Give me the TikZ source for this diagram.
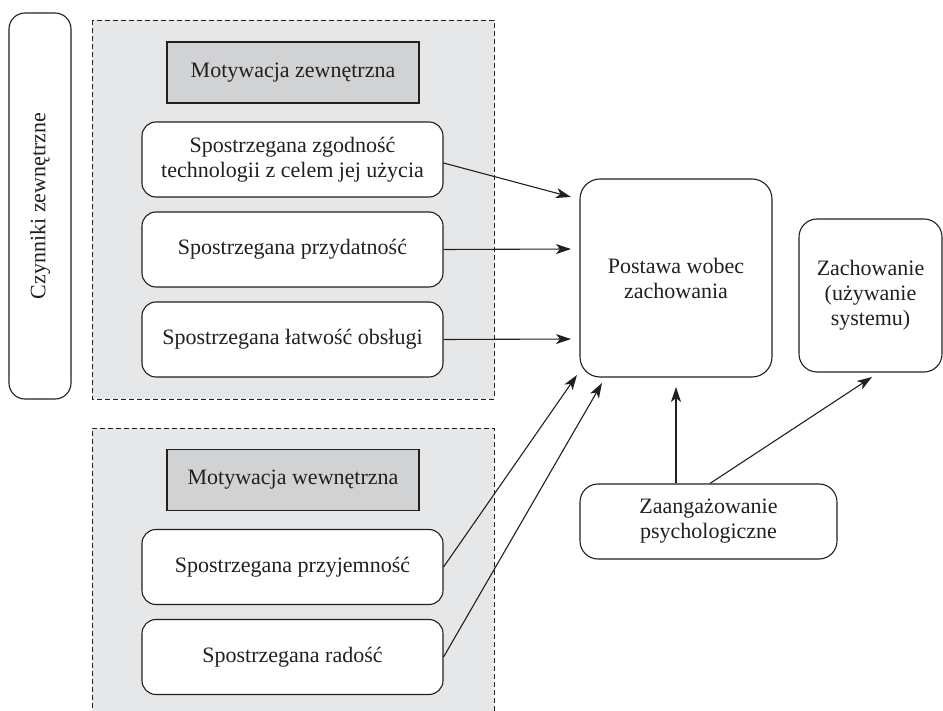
\documentclass[tikz,border=0pt]{standalone}
\usepackage{fontspec}
\setmainfont{Liberation Serif}
\usetikzlibrary{arrows.meta}
\definecolor{ink}{HTML}{231F20}
\definecolor{panelgray}{HTML}{E6E7E8}
\definecolor{headgray}{HTML}{D1D2D4}
\begin{document}
\begin{tikzpicture}[x=1pt,y=-1pt,
  every node/.style={font=\fontsize{22}{25}\selectfont, text=ink, align=center, inner sep=0pt},
  rbox/.style={draw=ink, line width=1.1pt, fill=white, rounded corners=14pt},
  headbox/.style={draw=ink, line width=1.1pt, fill=headgray, minimum width=252pt, minimum height=61pt},
  panel/.style={fill=panelgray},
  dashline/.style={draw=ink, line width=0.9pt, dash pattern=on 5pt off 3pt},
  conn/.style={draw=ink, line width=1.1pt, -{Stealth[length=15pt,width=10pt,inset=4pt]}}]
\useasboundingbox (0,0) rectangle (943,711);
% panels
\fill[panel] (92,20) rectangle (494,399);
\draw[dashline] (92,20) rectangle (494,399);
\fill[panel] (92,428) rectangle (494,711);
\draw[dashline] (92,716) -- (92,428) -- (494,428) -- (494,716);
% left label
\node[rbox, minimum width=62pt, minimum height=386pt, rounded corners=16pt] (czyn) at (40,206) {};
\node[rotate=90] (czynt) at (czyn.center) {Czynniki zewnętrzne};
% headers
\node[headbox] (mz) at (293,72.5) {Motywacja zewnętrzna};
\node[headbox] (mw) at (293,480) {Motywacja wewnętrzna};
% factor boxes
\node[rbox, minimum width=301pt, minimum height=75pt] (b1) at (292.5,159.5) {Spostrzegana zgodność\\technologii z celem jej użycia};
\node[rbox, minimum width=301pt, minimum height=75pt] (b2) at (292.5,249.5) {Spostrzegana przydatność};
\node[rbox, minimum width=301pt, minimum height=75pt] (b3) at (292.5,339.5) {Spostrzegana łatwość obsługi};
\node[rbox, minimum width=301pt, minimum height=75pt] (b4) at (292.5,567) {Spostrzegana przyjemność};
\node[rbox, minimum width=301pt, minimum height=75pt] (b5) at (292.5,657) {Spostrzegana radość};
% right boxes
\node[rbox, minimum width=192pt, minimum height=198pt, rounded corners=20pt] (post) at (676,278) {Postawa wobec\\zachowania};
\node[rbox, minimum width=143pt, minimum height=153pt, rounded corners=18pt] (zach) at (870.5,295.5) {Zachowanie\\(używanie\\systemu)};
\node[rbox, minimum width=257pt, minimum height=75pt, rounded corners=18pt] (zaan) at (708.5,521.5) {Zaangażowanie\\psychologiczne};
% target coordinates
\coordinate (t1) at (571,197);
\coordinate (t2) at (571,249);
\coordinate (t3) at (571,339);
\coordinate (t4) at (577,375);
\coordinate (t5) at (602,383);
\coordinate (t6) at (676,387);
\coordinate (t7) at (872,377);
% connectors
\draw[conn] (b1.east |- 0,163) -- (t1);
\draw[conn] (b2.east) -- (t2);
\draw[conn] (b3.east) -- (t3);
\draw[conn] (b4.east) -- (t4);
\draw[conn] (b5.east) -- (t5);
\draw[conn] (zaan.north -| t6) -- (t6);
\draw[conn] (zaan.north -| 710,0) -- (t7);
\end{tikzpicture}
\end{document}
